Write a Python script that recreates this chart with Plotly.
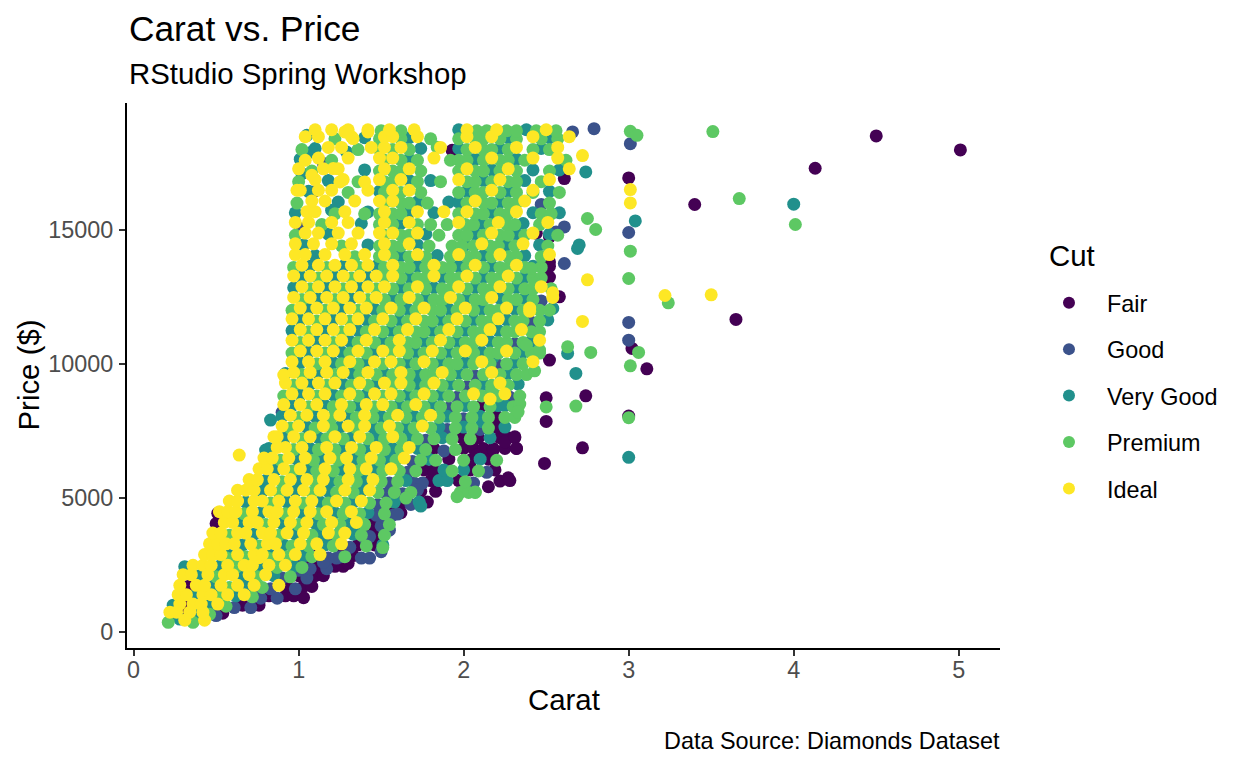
import plotly.graph_objects as go

# ---- data (carat vs price, diamonds by cut) ----
cuts = ["Fair", "Good", "Very Good", "Premium", "Ideal"]
cut_colors = ["#440154", "#3B528B", "#21908C", "#5DC863", "#FDE725"]

# rows: (price, [carats...]) ; extra: (carat, price)
fair_rows = [
    (700, [0.30, 0.54]), (1000, [0.32, 0.66, 0.76]), (1350, [0.82, 0.92, 0.97]),
    (1700, [0.33, 0.93, 1.03, 1.08]), (2100, [1.00, 1.10, 1.15]), (2450, [1.12, 1.22, 1.27]),
    (2850, [1.33]), (3250, [1.36, 1.46]), (3650, [1.48]),
    (4050, [0.50, 1.45]), (4450, [1.62]), (4850, [1.63, 1.78]),
    (5250, [1.74, 1.83]), (5650, [1.80, 1.97]),
    (6050, [1.76, 1.82, 2.04, 2.19]), (6450, [1.91, 2.05, 2.15]),
    (6850, [1.82, 2.00, 2.06, 2.12, 2.18, 2.25, 2.32]), (7250, [1.99, 2.09, 2.22, 2.27, 2.31]),
    (7650, [2.20]), (8050, [2.20]), (8450, [2.11]), (13250, [2.52]), (13650, [2.52]),
]
fair_extra = [
    (0.30, 1380), (0.51, 4429), (1.03, 1280), (1.30, 2563), (0.70, 1900),
    (0.78, 2300), (0.86, 2200), (0.95, 2500), (1.05, 2700), (1.12, 2900),
    (1.27, 3100), (1.42, 3900), (1.58, 4700),
    (1.72, 5500), (2.15, 5421), (2.22, 5634), (2.27, 5757), (2.28, 5650), (2.25, 7100),
    (2.18, 6790), (2.08, 6604), (2.04, 6168), (1.82, 5921), (2.31, 7288), (2.32, 6853),
    (2.20, 7936), (2.50, 7860), (2.50, 8742), (2.74, 8817), (2.72, 6876), (2.49, 6293),
    (3.00, 8059), (3.11, 9824), (3.02, 10585), (3.65, 11667), (2.52, 10150), (2.58, 12510),
    (2.51, 13257), (2.52, 13816), (2.44, 14885), (2.52, 14750), (2.61, 16927), (3.40, 15958),
    (3.00, 16950), (4.13, 17312), (5.01, 17995), (4.50, 18518), (1.93, 17980),
]

good_rows = [
    (630, [0.25]), (610, [0.50]), (910, [0.61, 0.71]), (1260, [0.77, 0.87]),
    (1610, [0.83, 0.98]), (2010, [0.90, 1.05]), (2360, [1.07, 1.17]),
    (2760, [1.02, 1.18, 1.23, 1.38, 1.43]), (2996, [1.50]), (3160, [1.31]), (3560, [1.43]),
    (3960, [1.50]), (4360, [1.47, 1.57]), (4760, [1.48, 1.68]), (5160, [1.53, 1.63]),
    (5560, [1.55, 1.70, 1.75, 2.06]), (5960, [1.66, 2.14]), (6360, [1.69]), (6760, [1.88]),
    (7160, [1.77]), (7560, [1.90, 2.10]), (7960, [2.00]), (8360, [1.91]),
    (8760, [1.96, 2.28]), (9160, [2.02]), (9560, [2.07]), (9960, [2.21]),
    (10760, [2.31]), (11560, [2.41]), (12360, [2.47]), (15960, [2.47]),
]
good_extra = [
    (2.79, 18790), (2.66, 18667), (3.01, 18230), (3.00, 14913), (3.00, 11555), (3.00, 10895),
    (2.61, 15123), (2.61, 13756), (2.34, 13070), (2.56, 14935), (1.15, 17487), (1.09, 16428),
    (1.01, 15062), (0.90, 8200), (0.74, 1600), (1.00, 2300), (1.15, 2600), (1.25, 2800),
    (1.40, 3500), (1.55, 3800), (1.60, 4400), (1.72, 5300), (0.44, 900), (1.20, 3300),
    (1.52, 4300),
]

very_good_rows = [
    (480, [0.28]), (700, [0.38]), (1000, [0.24, 0.46]), (1350, [0.37, 0.62]),
    (1700, [0.48, 0.68]), (2100, [0.40, 0.65, 0.85]), (2437, [0.31]), (2450, [0.52, 0.77, 0.97]),
    (2772, [0.66, 0.91]), (2850, [0.58, 0.83, 1.03]), (3250, [0.66, 0.91, 1.16, 1.51]),
    (3650, [0.73, 0.98, 1.13, 1.33]), (4050, [0.65, 0.90, 1.10, 1.30]),
    (4450, [0.77, 1.02, 1.22, 1.42]), (4850, [0.68, 0.93, 1.13, 1.33, 1.58, 1.73]),
    (5250, [0.78, 0.98, 1.18, 1.38]), (5650, [0.80, 1.00, 1.20, 1.40, 1.65, 1.85, 1.90]),
    (6050, [0.86, 1.06, 1.26, 1.46, 1.88, 2.00]), (6450, [0.99, 1.14, 1.34, 1.54, 1.79, 2.10]),
    (6850, [0.82, 1.07, 1.27, 1.42, 1.57, 1.72]), (7250, [0.92, 1.12, 1.32, 1.47, 1.67, 1.87, 2.16]),
    (7650, [1.05, 1.25, 1.45, 1.65, 1.85, 2.00, 2.25]), (8050, [0.90, 1.10, 1.30, 1.50, 1.70, 1.90, 2.10]),
    (8450, [0.96, 1.16, 1.36, 1.61, 1.81, 2.01, 2.21, 2.25]), (8850, [1.01, 1.21, 1.41, 1.66, 1.86, 2.16]),
    (9250, [1.07, 1.27, 1.47, 1.72, 1.92, 2.12, 2.33]), (9650, [0.92, 1.12, 1.32, 1.52, 1.72, 1.97, 2.27]),
    (10050, [1.01, 1.21, 1.41, 1.66, 1.86, 2.01, 2.31]), (10450, [1.06, 1.26, 1.46, 1.71, 1.91, 2.11, 2.36]),
    (10850, [1.11, 1.31, 1.51, 1.76, 1.96, 2.16, 2.41]), (11250, [0.96, 1.16, 1.36, 1.56, 1.81, 2.01, 2.21]),
    (11650, [1.01, 1.21, 1.41, 1.61, 1.86, 2.06, 2.26, 2.51]), (12050, [1.06, 1.26, 1.46, 1.66, 1.91, 2.11, 2.31]),
    (12450, [1.12, 1.32, 1.57, 1.77, 2.02, 2.22, 2.37]), (12850, [0.97, 1.17, 1.37, 1.62, 1.82, 2.07, 2.32]),
    (13250, [1.02, 1.22, 1.42, 1.67, 1.87, 2.12, 2.37]), (13650, [1.07, 1.27, 1.47, 1.72, 1.97, 2.17, 2.42]),
    (14050, [1.10, 1.62, 1.84, 2.12, 2.37]), (14450, [1.03, 1.42, 1.72, 2.01, 2.26, 2.46, 2.70]),
    (14850, [1.18, 1.77, 2.07, 2.32, 2.52]), (15250, [1.38, 1.62, 2.11, 2.36]),
    (15650, [0.98, 1.67, 1.82, 2.17, 2.42, 2.58]), (16050, [1.24, 1.72, 1.91, 1.97, 2.22]),
    (16450, [1.06, 1.49, 2.02, 2.27, 2.52]), (16850, [1.18, 1.67, 1.80, 2.12, 2.37]),
    (17250, [1.40, 2.17, 2.42, 2.58]), (17650, [1.01, 1.67, 2.07, 2.32]),
    (18050, [1.10, 1.74, 1.97, 2.22, 2.47]), (18450, [1.40, 1.67, 2.27, 2.52]), (18750, [1.97, 2.38]),
]
very_good_extra = [
    (4.00, 15970), (3.04, 15347), (3.00, 6518), (2.69, 14315), (2.74, 17174), (2.54, 12077),
    (2.63, 10400), (2.68, 9652), (2.18, 10271), (2.11, 7847), (1.05, 18543), (1.08, 17920),
    (1.29, 17920), (1.02, 17114), (1.20, 15745), (1.42, 15683), (0.80, 6790), (0.83, 7910),
    (1.74, 4700), (1.35, 3700),
]

premium_rows = [
    (360, [0.21, 0.36]), (660, [0.46]), (960, [0.56]), (1310, [0.52, 0.72]), (1660, [0.58, 0.78]),
    (2060, [0.50, 0.75, 0.95]), (2410, [0.62, 0.87, 1.02]), (2772, [0.56, 0.61, 0.71, 0.81, 0.86]),
    (2810, [0.68, 0.93, 1.08, 1.28]), (3150, [1.51]), (3210, [0.76, 0.96, 1.06, 1.21, 1.41]),
    (3610, [0.58, 0.88, 1.08, 1.23, 1.38, 1.52]), (4010, [0.80, 1.00, 1.15, 1.25, 1.40, 1.55]),
    (4410, [0.67, 0.92, 1.12, 1.27, 1.37, 1.52]), (4810, [0.83, 1.03, 1.18, 1.28, 1.43, 1.53]),
    (5210, [0.88, 1.08, 1.23, 1.33, 1.48, 1.58, 1.68, 1.98, 2.03, 2.07]),
    (5610, [0.90, 1.10, 1.25, 1.35, 1.50, 1.60, 2.01]),
    (6010, [0.96, 1.11, 1.21, 1.36, 1.51, 1.61, 1.71, 1.93, 2.09]),
    (6410, [0.89, 1.09, 1.24, 1.39, 1.49, 1.59, 1.74, 1.83, 2.00, 2.20]),
    (6810, [0.97, 1.12, 1.22, 1.37, 1.52, 1.62, 1.77, 1.95]),
    (7210, [1.02, 1.17, 1.27, 1.42, 1.52, 1.62, 1.72, 1.82, 1.93, 2.04]),
    (7610, [0.95, 1.10, 1.20, 1.35, 1.50, 1.60, 1.70, 1.80, 1.95, 2.05, 2.15]),
    (8010, [1.00, 1.20, 1.35, 1.45, 1.55, 1.65, 1.75, 1.85, 1.95, 2.05, 2.15, 2.25, 2.31]),
    (8410, [1.06, 1.21, 1.31, 1.46, 1.56, 1.66, 1.76, 1.86, 1.96, 2.06, 2.16, 2.30]),
    (8810, [0.91, 1.11, 1.26, 1.36, 1.51, 1.61, 1.71, 1.81, 1.91, 2.01, 2.11, 2.21, 2.34]),
    (9210, [0.97, 1.17, 1.32, 1.42, 1.57, 1.67, 1.77, 1.87, 1.97, 2.07, 2.17, 2.27]),
    (9610, [1.02, 1.22, 1.37, 1.47, 1.57, 1.67, 1.77, 1.82, 1.92, 2.02, 2.12, 2.22, 2.32, 2.38]),
    (10010, [1.11, 1.26, 1.36, 1.51, 1.61, 1.71, 1.81, 1.91, 1.96, 2.06, 2.16, 2.26, 2.36]),
    (10410, [0.96, 1.16, 1.31, 1.41, 1.56, 1.66, 1.76, 1.86, 1.96, 2.06, 2.16, 2.21, 2.31, 2.41, 2.46]),
    (10810, [1.01, 1.21, 1.36, 1.46, 1.56, 1.66, 1.71, 1.81, 1.91, 2.01, 2.06, 2.21, 2.26, 2.36]),
    (11210, [1.06, 1.26, 1.41, 1.51, 1.61, 1.71, 1.76, 1.86, 1.96, 2.06, 2.11, 2.26, 2.31, 2.41, 2.46]),
    (11610, [1.11, 1.31, 1.46, 1.56, 1.66, 1.76, 1.81, 1.91, 2.01, 2.11, 2.16, 2.31, 2.36, 2.46]),
    (12010, [0.96, 1.16, 1.36, 1.51, 1.61, 1.71, 1.81, 1.86, 1.96, 2.06, 2.16, 2.21, 2.36, 2.46, 2.52]),
    (12410, [1.02, 1.22, 1.42, 1.52, 1.62, 1.72, 1.82, 1.87, 1.97, 2.07, 2.12, 2.27, 2.32, 2.42]),
    (12810, [1.07, 1.27, 1.47, 1.57, 1.67, 1.77, 1.87, 1.92, 2.02, 2.12, 2.17, 2.27, 2.37, 2.42, 2.53]),
    (13210, [1.12, 1.32, 1.52, 1.62, 1.72, 1.77, 1.92, 1.97, 2.07, 2.17, 2.22, 2.32, 2.42, 2.47]),
    (13610, [0.97, 1.17, 1.37, 1.52, 1.62, 1.67, 1.77, 1.87, 1.92, 2.02, 2.12, 2.22, 2.27, 2.37, 2.47]),
    (14010, [1.34, 1.49, 1.57, 1.67, 1.77, 1.92, 2.02, 2.07, 2.17, 2.27, 2.32, 2.47]),
    (14410, [1.26, 1.49, 1.57, 1.62, 1.79, 1.93, 1.99, 2.06, 2.16, 2.21, 2.31, 2.51]),
    (14810, [0.98, 1.52, 1.62, 1.67, 1.85, 1.97, 2.02, 2.12, 2.22, 2.27, 2.37, 2.57]),
    (15210, [1.14, 1.49, 1.57, 1.72, 1.80, 1.90, 2.01, 2.06, 2.16, 2.26, 2.31, 2.46]),
    (15610, [1.22, 1.40, 1.49, 1.57, 1.62, 1.97, 2.07, 2.12, 2.22, 2.27, 2.47, 2.53]),
    (16010, [0.99, 1.52, 1.62, 1.67, 1.78, 2.02, 2.12, 2.17, 2.27, 2.32, 2.52]),
    (16410, [1.30, 1.52, 1.62, 1.74, 1.97, 2.07, 2.12, 2.22, 2.32, 2.42, 2.58]),
    (16810, [1.00, 1.36, 1.52, 1.57, 1.72, 1.86, 2.02, 2.07, 2.17, 2.27, 2.32, 2.47]),
    (17210, [1.08, 1.49, 1.57, 1.62, 1.74, 1.97, 2.07, 2.12, 2.22, 2.32, 2.52]),
    (17610, [1.20, 1.52, 1.62, 1.72, 1.92, 1.97, 2.02, 2.12, 2.22, 2.27, 2.37, 2.62]),
    (18010, [1.02, 1.36, 1.49, 1.57, 1.67, 2.02, 2.12, 2.17, 2.27, 2.42, 2.52]),
    (18410, [1.22, 1.49, 1.62, 1.80, 1.97, 2.07, 2.12, 2.22, 2.32, 2.47, 2.57]),
    (18710, [1.50, 1.62, 2.08, 2.14, 2.26, 2.32, 2.44, 2.56]),
]
premium_extra = [
    (3.01, 18690), (3.05, 18543), (3.51, 18680), (3.67, 16180), (4.01, 15212), (3.01, 14215),
    (3.00, 13196), (3.24, 12287), (3.06, 10436), (3.01, 9936), (3.00, 8000), (2.75, 15435),
    (2.80, 15025), (2.41, 13570), (2.43, 13010), (2.46, 10522), (2.63, 10645), (2.77, 10436),
    (2.43, 9750), (2.34, 11577), (2.38, 10708), (2.68, 8432), (2.50, 8400), (2.34, 8507),
    (2.33, 8220), (2.17, 9078), (1.96, 5050), (2.07, 5224), (1.84, 18100), (1.65, 5000),
]

ideal_rows = [
    (440, [0.31, 0.43]), (740, [0.22, 0.26, 0.34, 0.42]), (1040, [0.28, 0.36, 0.41, 0.51]),
    (1390, [0.27, 0.32, 0.42, 0.47, 0.57, 0.67]), (1740, [0.28, 0.38, 0.43, 0.53, 0.63, 0.73, 0.88]),
    (2140, [0.30, 0.35, 0.45, 0.55, 0.60, 0.70, 0.80]),
    (2490, [0.36, 0.42, 0.47, 0.57, 0.67, 0.72, 0.82, 0.92]), (2772, [0.76]),
    (2890, [0.43, 0.48, 0.53, 0.63, 0.73, 0.78, 0.88, 0.98, 1.13]),
    (3290, [0.46, 0.51, 0.56, 0.61, 0.71, 0.81, 0.86, 1.01, 1.11, 1.26]),
    (3690, [0.48, 0.53, 0.63, 0.68, 0.78, 0.83, 0.93, 1.03, 1.18, 1.28]),
    (4090, [0.55, 0.60, 0.70, 0.75, 0.85, 0.95, 1.05, 1.20, 1.35]),
    (4490, [0.52, 0.57, 0.62, 0.72, 0.82, 0.87, 0.97, 1.07, 1.17, 1.32]),
    (4890, [0.58, 0.63, 0.73, 0.78, 0.88, 0.98, 1.08, 1.23, 1.38]),
    (5290, [0.63, 0.68, 0.73, 0.83, 0.93, 1.03, 1.13, 1.28, 1.43]),
    (5690, [0.70, 0.75, 0.85, 0.95, 1.05, 1.15, 1.30, 1.45]),
    (6090, [0.76, 0.81, 0.91, 1.01, 1.16, 1.31, 1.41, 1.56]),
    (6490, [0.79, 0.84, 0.94, 1.04, 1.19, 1.29, 1.44, 1.64]),
    (6890, [0.87, 0.92, 1.02, 1.17, 1.32, 1.47, 1.67]),
    (7290, [0.87, 0.97, 1.07, 1.22, 1.37, 1.57]),
    (7690, [0.90, 1.00, 1.15, 1.30, 1.40, 1.55, 1.75]),
    (8090, [0.95, 1.05, 1.15, 1.25, 1.40, 1.60, 1.80]),
    (8490, [0.91, 1.01, 1.11, 1.26, 1.41, 1.51, 1.71]),
    (8890, [0.96, 1.06, 1.16, 1.31, 1.46, 1.56, 1.76, 2.06, 2.25]),
    (9290, [0.92, 1.02, 1.12, 1.22, 1.37, 1.52, 1.62, 1.82, 2.22]),
    (9690, [0.97, 1.07, 1.17, 1.27, 1.42, 1.62, 1.87, 2.17]),
    (10090, [0.96, 1.06, 1.16, 1.31, 1.46, 1.56, 1.76, 2.11, 2.42]),
    (10490, [1.01, 1.11, 1.21, 1.36, 1.51, 1.61, 1.81, 2.01, 2.26]),
    (10890, [0.96, 1.06, 1.16, 1.26, 1.41, 1.61, 1.86, 2.11, 2.46]),
    (11290, [1.01, 1.11, 1.21, 1.31, 1.46, 1.66, 1.91, 2.16, 2.35]),
    (11690, [0.96, 1.06, 1.16, 1.26, 1.36, 1.51, 1.71, 1.96, 2.21]),
    (12090, [1.01, 1.11, 1.21, 1.31, 1.41, 1.56, 1.76, 2.01, 2.26, 2.40]),
    (12490, [0.97, 1.07, 1.17, 1.27, 1.37, 1.47, 1.67, 1.92, 2.17, 2.54]),
    (12890, [1.02, 1.12, 1.22, 1.32, 1.42, 1.52, 1.72, 1.97, 2.22, 2.47]),
    (13290, [0.97, 1.07, 1.17, 1.27, 1.37, 1.47, 1.57, 1.82, 2.02, 2.27]),
    (13690, [1.02, 1.12, 1.22, 1.32, 1.42, 1.57, 1.82, 2.07, 2.32]),
    (14090, [0.98, 1.04, 1.16, 1.28, 1.40, 1.52, 1.72, 1.97, 2.22, 2.52]),
    (14490, [0.98, 1.09, 1.20, 1.32, 1.52, 1.67, 2.11, 2.36]),
    (14890, [1.04, 1.12, 1.24, 1.36, 1.49, 1.57, 1.72, 2.17, 2.42]),
    (15290, [0.98, 1.06, 1.20, 1.30, 1.52, 1.67, 1.97, 2.21, 2.51]),
    (15690, [1.05, 1.10, 1.28, 1.52, 1.72, 1.88, 2.02, 2.32]),
    (16090, [1.08, 1.16, 1.34, 1.49, 1.57, 2.07, 2.37]),
    (16490, [0.99, 1.12, 1.20, 1.42, 1.57, 1.67, 2.17, 2.42]),
    (16890, [1.10, 1.27, 1.49, 1.62, 1.97, 2.22, 2.52]),
    (17290, [1.00, 1.15, 1.24, 1.52, 1.67, 2.02, 2.27, 2.64]),
    (17690, [1.12, 1.30, 1.49, 1.57, 1.82, 2.17, 2.42, 2.57]),
    (18090, [1.18, 1.26, 1.44, 1.52, 1.62, 1.86, 2.07, 2.32, 2.57]),
    (18490, [1.04, 1.12, 1.32, 1.52, 1.57, 1.72, 2.02, 2.17, 2.42, 2.64]),
    (18750, [1.10, 1.20, 1.30, 1.42, 1.55, 1.70, 2.02, 2.20, 2.50]),
]
ideal_extra = [
    (3.01, 16517), (3.01, 16018), (3.22, 12562), (3.50, 12585), (2.72, 11592), (2.75, 13146),
    (2.72, 17786), (2.54, 12660), (2.40, 11976), (2.16, 8694), (0.64, 6604), (0.85, 7287),
    (0.91, 9589), (1.28, 18667), (1.33, 18420), (1.42, 18667), (1.21, 17300), (1.25, 16800),
    (1.40, 16800), (1.04, 17610), (1.08, 17050), (1.01, 16490),
]

x_ticks = [0, 1, 2, 3, 4, 5]
y_ticks = [0, 5000, 10000, 15000]
y_tick_labels = ["0", "5000", "10000", "15000"]

all_rows = [fair_rows, good_rows, very_good_rows, premium_rows, ideal_rows]
all_extra = [fair_extra, good_extra, very_good_extra, premium_extra, ideal_extra]

FONT = "Liberation Sans, Arial, sans-serif"

fig = go.Figure()

for name, color, rows, extra in zip(cuts, cut_colors, all_rows, all_extra):
    xs, ys = [], []
    for price, carats in rows:
        for c in carats:
            xs.append(c)
            ys.append(price)
    for c, p in extra:
        xs.append(c)
        ys.append(p)
    fig.add_trace(
        go.Scatter(
            x=xs, y=ys, mode="markers", name=name, legendgroup=name,
            marker=dict(color=color, size=13, line=dict(width=0)),
        )
    )

axis_style = dict(
    showline=True, linecolor="black", linewidth=2,
    ticks="outside", ticklen=6, tickwidth=2, tickcolor="#333333",
    tickfont=dict(family=FONT, size=23.4, color="#4D4D4D"),
    showgrid=False, zeroline=False,
)

# page body has an 8px margin, so the figure is drawn 8px smaller than the window
fig.update_layout(
    width=1240, height=760,
    margin=dict(l=119, r=248, t=95, b=120),
    paper_bgcolor="white", plot_bgcolor="white",
    font=dict(family=FONT, color="black"),
    xaxis=dict(range=[-0.04, 5.25], tickvals=x_ticks, ticklabelstandoff=-6, **axis_style),
    yaxis=dict(range=[-599, 19748], tickvals=y_ticks, ticktext=y_tick_labels,
               ticklabelstandoff=1, **axis_style),
    legend=dict(
        font=dict(family=FONT, size=23.4, color="black"),
        x=1.0355, xanchor="left", y=0.6734, yanchor="top",
        tracegroupgap=13, itemwidth=66, bgcolor="rgba(0,0,0,0)",
        itemsizing="constant",
    ),
    showlegend=True,
)

fig.add_annotation(text="Carat vs. Price", xref="paper", yref="paper", x=0, y=1.1376,
                   xanchor="left", yanchor="middle", showarrow=False,
                   font=dict(family=FONT, size=35.3, color="black"))
fig.add_annotation(text="RStudio Spring Workshop", xref="paper", yref="paper", x=0, y=1.055,
                   xanchor="left", yanchor="middle", showarrow=False,
                   font=dict(family=FONT, size=29.4, color="black"))
fig.add_annotation(text="Cut", xref="paper", yref="paper", x=1.0538, y=0.7211,
                   xanchor="left", yanchor="middle", showarrow=False,
                   font=dict(family=FONT, size=29.4, color="black"))
fig.add_annotation(text="Data Source: Diamonds Dataset", xref="paper", yref="paper", x=1.0023, y=-0.1706,
                   xanchor="right", yanchor="middle", showarrow=False,
                   font=dict(family=FONT, size=23.4, color="black"))
fig.add_annotation(text="Carat", xref="paper", yref="paper", x=0.5, y=-0.0954,
                   xanchor="center", yanchor="middle", showarrow=False,
                   font=dict(family=FONT, size=29.4, color="black"))
fig.add_annotation(text="Price ($)", xref="paper", yref="paper", x=-0.1134, y=0.5, textangle=-90,
                   xanchor="center", yanchor="middle", showarrow=False,
                   font=dict(family=FONT, size=29.4, color="black"))

fig.write_html("out.html")
